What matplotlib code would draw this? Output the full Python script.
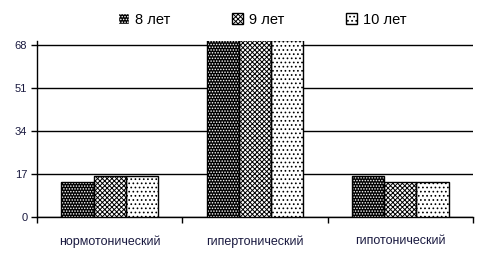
import numpy as np
import matplotlib
matplotlib.use('Agg')
import matplotlib.pyplot as plt

plt.rcParams['font.family'] = ['Liberation Sans', 'DejaVu Sans']
plt.rcParams['hatch.linewidth'] = 0.7

categories = ['нормотонический', 'гипертонический', 'гипотонический']
series_names = ['8 лет', '9 лет', '10 лет']
values_8 = [14, 70, 16]
values_9 = [16, 70, 14]
values_10 = [16, 70, 14]
y_ticks = [0, 17, 34, 51, 68]

# face colour, hatch, hatch colour
styles = [('black', '......', 'white'),
          ('white', 'xxxxxxx', 'black'),
          ('white', '....', 'black')]

fig = plt.figure(figsize=(4.9, 2.64), dpi=100)
ax = fig.add_axes([0.0755, 0.178, 0.8895, 0.667])

x = np.arange(len(categories))
width = 0.222
handles = []
for i, (vals, name) in enumerate(zip([values_8, values_9, values_10], series_names)):
    face, hatch, hcol = styles[i]
    pos = x + (i - 1) * width
    ax.bar(pos, vals, width, color=face, hatch=hatch, edgecolor=hcol, linewidth=0, zorder=3)
    ax.bar(pos, vals, width, fill=False, edgecolor='black', linewidth=1, zorder=4)
    handles.append(plt.Rectangle((0, 0), 1, 1, facecolor=face, hatch=hatch, edgecolor=hcol))

ax.set_xlim(-0.5, 2.5)
ax.set_ylim(0, 69.5)
ax.set_yticks(y_ticks)
ax.set_yticklabels([str(t) for t in y_ticks], fontsize=8, color='#1a1a40')
ax.yaxis.grid(True, color='black', linewidth=1, zorder=0)
ax.set_axisbelow(True)

ax.set_xticks(x)
ax.set_xticklabels(categories, fontsize=9, color='#1a1a40')
ax.tick_params(axis='x', length=0, pad=13)
ax.set_xticks([-0.5, 0.5, 1.5, 2.5], minor=True)
ax.tick_params(axis='x', which='minor', length=4, direction='out', width=1)
ax.tick_params(axis='y', length=4, direction='out', width=1, pad=3)

for s in ['top', 'right']:
    ax.spines[s].set_visible(False)
ax.spines['left'].set_linewidth(1)
ax.spines['bottom'].set_linewidth(1)

leg = fig.legend(handles, series_names, loc='center', bbox_to_anchor=(0.535, 0.925),
                 ncol=3, frameon=False, fontsize=10.5, handlelength=0.8, handleheight=0.8,
                 columnspacing=4.2, handletextpad=0.4)

fig.savefig('out.png', dpi=100)
